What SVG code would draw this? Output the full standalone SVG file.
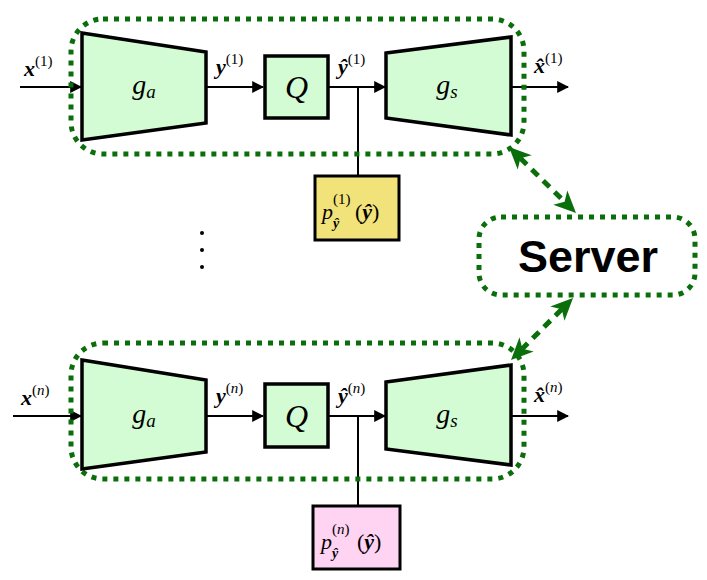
<svg xmlns="http://www.w3.org/2000/svg" width="707" height="580" viewBox="0 0 707 580">
<style>
.blk{fill:#d4fcd4;stroke:#000;stroke-width:3.5;stroke-linejoin:miter}
.ln{stroke:#000;stroke-width:2;fill:none}
.loop{fill:none;stroke:#0a6e0a;stroke-width:5;stroke-dasharray:5 6}
.dash{stroke:#0a6e0a;stroke-width:5;stroke-dasharray:9 7;fill:none}
.gh{fill:#0a6e0a}
.m{font-family:"Liberation Serif",serif;font-style:italic;fill:#000}
.b{font-weight:bold}
.r{font-style:normal}
.n{font-weight:normal}
.srv{font-family:"Liberation Sans",Arial,sans-serif;font-size:45px;font-weight:bold;fill:#000}
</style>
<defs>
<marker id="ab" viewBox="0 0 10 10" refX="9" refY="5" markerWidth="12" markerHeight="12" markerUnits="userSpaceOnUse" orient="auto">
<path d="M0,0 L10,5 L0,10 z" fill="#000"/>
</marker>
</defs>

<g id="connectors">
<line class="ln" x1="20" y1="87" x2="81" y2="87" marker-end="url(#ab)"/>
<line class="ln" x1="206" y1="87" x2="263" y2="87" marker-end="url(#ab)"/>
<line class="ln" x1="328" y1="87" x2="385" y2="87" marker-end="url(#ab)"/>
<line class="ln" x1="358" y1="87" x2="358" y2="177"/>
<line class="ln" x1="511" y1="87" x2="568" y2="87" marker-end="url(#ab)"/>

<line class="ln" x1="13" y1="416" x2="81" y2="416" marker-end="url(#ab)"/>
<line class="ln" x1="206" y1="416" x2="263" y2="416" marker-end="url(#ab)"/>
<line class="ln" x1="328" y1="416" x2="385" y2="416" marker-end="url(#ab)"/>
<line class="ln" x1="358" y1="416" x2="358" y2="506"/>
<line class="ln" x1="511" y1="416" x2="568" y2="416" marker-end="url(#ab)"/>

<line class="dash" x1="520.4" y1="158.2" x2="564.6" y2="201.8"/>
<polygon class="gh" points="509,147 531.7,155.3 520.4,158.2 517.7,169.5"/>
<polygon class="gh" points="576,213 553.3,204.7 564.6,201.8 567.3,190.5"/>
<line class="dash" x1="561.7" y1="309.3" x2="522.3" y2="348.7"/>
<polygon class="gh" points="573,298 550.3,306.5 561.7,309.3 564.5,320.7"/>
<polygon class="gh" points="511,360 519.5,337.3 522.3,348.7 533.7,351.5"/>
</g>

<g id="client1">
<rect class="loop" x="71" y="19" width="453" height="135" rx="32"/>
</g>
<g id="ga1">
<polygon class="blk" points="82,33 206,52 206,123 82,140"/>
<text class="m" x="144" y="94" font-size="28" text-anchor="middle">g<tspan font-size="19" dy="4">a</tspan></text>
</g>
<g id="q1">
<rect class="blk" x="265" y="56" width="63" height="62"/>
<text class="m" x="296.5" y="98" font-size="32" text-anchor="middle">Q</text>
</g>
<g id="gs1">
<polygon class="blk" points="386,53 511,37 511,135 386,118"/>
<text class="m" x="447" y="94" font-size="28" text-anchor="middle">g<tspan font-size="19" dy="4">s</tspan></text>
</g>
<g id="labels1">
<text class="m b" x="24" y="76" font-size="22">x<tspan class="r n" font-size="15" dy="-10">(1)</tspan></text>
<text class="m b" x="216" y="74" font-size="22">y<tspan class="r n" font-size="15" dy="-10">(1)</tspan></text>
<text class="m b" x="338" y="74" font-size="22">ŷ<tspan class="r n" font-size="15" dy="-10">(1)</tspan></text>
<text class="m b" x="534" y="73" font-size="22">x̂<tspan class="r n" font-size="15" dy="-10">(1)</tspan></text>
</g>
<g id="prior1">
<rect x="315" y="176" width="84" height="64" fill="#f2e27a" stroke="#000" stroke-width="3"/>
<text class="m" x="322" y="219" font-size="22">p</text>
<text class="m r" x="333" y="204" font-size="15">(1)</text>
<text class="m b" x="333" y="228" font-size="14">ŷ</text>
<text class="m" x="355" y="219" font-size="22"><tspan class="r">(</tspan><tspan class="b">ŷ</tspan><tspan class="r">)</tspan></text>
</g>

<g id="dots">
<circle cx="202" cy="233" r="2" fill="#000"/>
<circle cx="202" cy="250" r="2" fill="#000"/>
<circle cx="202" cy="267" r="2" fill="#000"/>
</g>

<g id="server">
<rect class="loop" x="479" y="217" width="216" height="78" rx="22"/>
<text class="srv" x="588" y="272" text-anchor="middle">Server</text>
</g>

<g id="clientn">
<rect class="loop" x="71" y="343" width="453" height="136" rx="32"/>
</g>
<g id="gan">
<polygon class="blk" points="82,360 206,380 206,452 82,469"/>
<text class="m" x="144" y="423" font-size="28" text-anchor="middle">g<tspan font-size="19" dy="4">a</tspan></text>
</g>
<g id="qn">
<rect class="blk" x="265" y="384" width="63" height="63"/>
<text class="m" x="296.5" y="427" font-size="32" text-anchor="middle">Q</text>
</g>
<g id="gsn">
<polygon class="blk" points="386,382 511,365 511,465 386,449"/>
<text class="m" x="447" y="423" font-size="28" text-anchor="middle">g<tspan font-size="19" dy="4">s</tspan></text>
</g>
<g id="labelsn">
<text class="m b" x="21" y="405" font-size="22">x<tspan class="r n" font-size="15" dy="-10">(</tspan><tspan class="n" font-size="15">n</tspan><tspan class="r n" font-size="15">)</tspan></text>
<text class="m b" x="216" y="403" font-size="22">y<tspan class="r n" font-size="15" dy="-10">(</tspan><tspan class="n" font-size="15">n</tspan><tspan class="r n" font-size="15">)</tspan></text>
<text class="m b" x="338" y="403" font-size="22">ŷ<tspan class="r n" font-size="15" dy="-10">(</tspan><tspan class="n" font-size="15">n</tspan><tspan class="r n" font-size="15">)</tspan></text>
<text class="m b" x="534" y="402" font-size="22">x̂<tspan class="r n" font-size="15" dy="-10">(</tspan><tspan class="n" font-size="15">n</tspan><tspan class="r n" font-size="15">)</tspan></text>
</g>
<g id="priorn">
<rect x="313" y="506" width="87" height="63" fill="#ffd4f2" stroke="#000" stroke-width="3"/>
<text class="m" x="321" y="549" font-size="22">p</text>
<text class="m" x="332" y="534" font-size="15"><tspan class="r">(</tspan>n<tspan class="r">)</tspan></text>
<text class="m b" x="332" y="558" font-size="14">ŷ</text>
<text class="m" x="357" y="549" font-size="22"><tspan class="r">(</tspan><tspan class="b">ŷ</tspan><tspan class="r">)</tspan></text>
</g>
</svg>
